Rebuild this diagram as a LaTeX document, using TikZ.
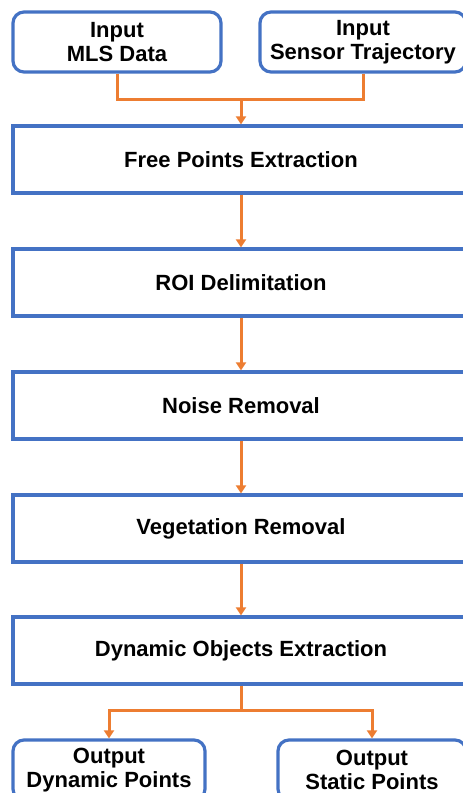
\documentclass[tikz,border=0pt]{standalone}
\usepackage{fontspec}
\setmainfont{Liberation Sans}
\usetikzlibrary{arrows.meta}
\definecolor{boxblue}{HTML}{4472C4}
\definecolor{lineorange}{HTML}{ED7D31}
\tikzset{
  stepbox/.style={draw=boxblue, line width=3.2pt, fill=white, minimum width=456pt, minimum height=67pt,
    font=\fontsize{22}{24}\selectfont\bfseries, align=center, inner sep=0pt},
  iobox/.style={draw=boxblue, line width=3.2pt, fill=white, rounded corners=11pt, minimum height=60pt,
    font=\fontsize{22}{24}\selectfont\bfseries, align=center, inner sep=0pt},
  conn/.style={draw=lineorange, line width=3pt},
  arr/.style={conn, -{Triangle[width=10pt,length=8pt]}}
}
\begin{document}
\begin{tikzpicture}[x=1pt,y=-1pt]
\useasboundingbox (0,0) rectangle (463,793);
\clip (0,0) rectangle (463,793);
\fill[white] (0,0) rectangle (463,793);
% input boxes
\node[iobox, minimum width=208pt] (in1) at (117,42) {Input\\MLS Data};
\node[iobox, minimum width=206pt] (in2) at (363,42) {Input\\Sensor Trajectory};
% process boxes
\node[stepbox] (free) at (241,159.5) {Free Points Extraction};
\node[stepbox] (roi) at (241,282.5) {ROI Delimitation};
\node[stepbox] (noise) at (241,405.5) {Noise Removal};
\node[stepbox] (veg) at (241,528.5) {Vegetation Removal};
\node[stepbox] (dyn) at (241,650.5) {Dynamic Objects Extraction};
% output boxes
\node[iobox, minimum width=192pt] (out1) at (109,770) {Output\\Dynamic Points};
\node[iobox, minimum width=188pt] (out2) at (372,770) {Output\\Static Points};
% junctions
\coordinate (j1) at (241,99);
\coordinate (j2) at (241,710);
% connectors
\draw[conn] (in1.south) |- (j1);
\draw[conn] (in2.south) |- (j1);
\draw[arr] (j1) -- (free.north);
\draw[arr] (free.south) -- (roi.north);
\draw[arr] (roi.south) -- (noise.north);
\draw[arr] (noise.south) -- (veg.north);
\draw[arr] (veg.south) -- (dyn.north);
\draw[conn] (dyn.south) -- (j2);
\draw[arr] (j2) -| (out1.north);
\draw[arr] (j2) -| (out2.north);
\end{tikzpicture}
\end{document}
